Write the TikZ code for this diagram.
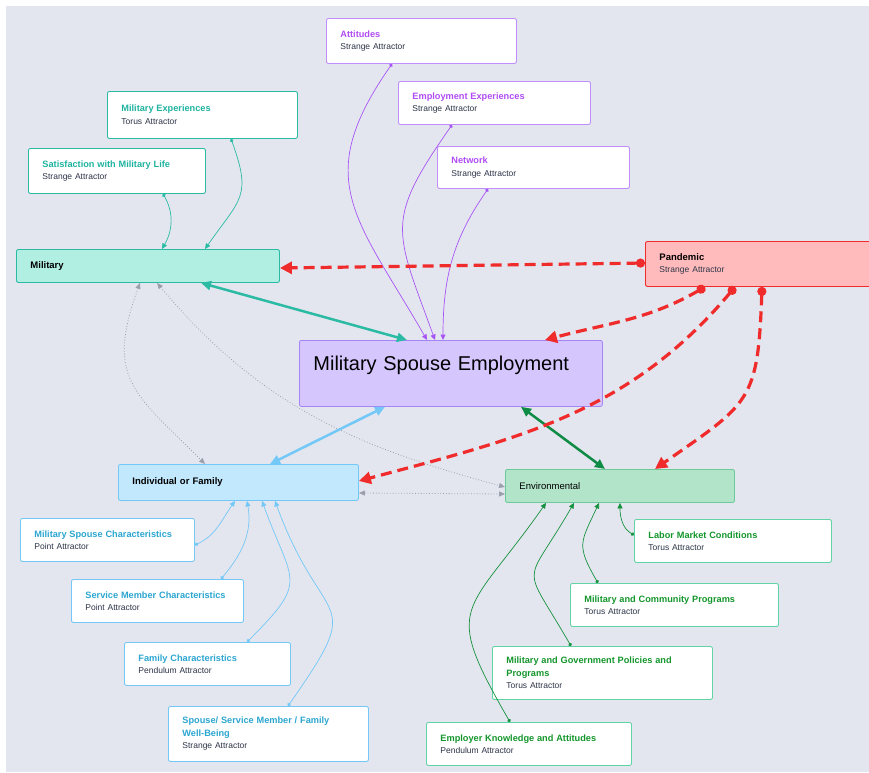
\documentclass[tikz,border=0pt]{standalone}
\usepackage{fontspec}
\setmainfont{Liberation Sans}
\usetikzlibrary{arrows.meta}

\definecolor{canvas}{HTML}{E3E6EE}
\definecolor{subtxt}{HTML}{2D3448}
\definecolor{tealtxt}{HTML}{1FB3A0}
\definecolor{tealln}{HTML}{2BBBA5}
\definecolor{tealfill}{HTML}{B2EFE3}
\definecolor{purptxt}{HTML}{B14CF5}
\definecolor{purpln}{HTML}{C08EFA}
\definecolor{purparr}{HTML}{A855F7}
\definecolor{msefill}{HTML}{D5C6FE}
\definecolor{msedraw}{HTML}{A585F3}
\definecolor{bluetxt}{HTML}{2BA6D0}
\definecolor{blueln}{HTML}{74C8F7}
\definecolor{bluefill}{HTML}{C2E8FD}
\definecolor{greentxt}{HTML}{14962C}
\definecolor{greenln}{HTML}{62D3A4}
\definecolor{greenarr}{HTML}{16913F}
\definecolor{greenfill}{HTML}{B2E4C9}
\definecolor{greendraw}{HTML}{6CC998}
\definecolor{darkgreen}{HTML}{0E8B45}
\definecolor{redln}{HTML}{F02B2B}
\definecolor{panfill}{HTML}{FFBBBB}
\definecolor{greyln}{HTML}{9AA0AB}

\newcommand{\factorname}[2]{{\fontsize{9.2}{12.5}\selectfont\bfseries\color{#1}#2}}

\tikzset{
  factor/.style={draw, fill=white, rounded corners=2pt, line width=0.9pt, anchor=north west,
    align=left, inner xsep=14pt, inner ysep=0pt, text=subtxt, font=\fontsize{8.5}{12.5}\selectfont},
  area/.style={factor, text=black, font=\fontsize{9.5}{12.5}\selectfont\bfseries},
  link/.style={line width=0.7pt, {Circle[length=3.5pt]}-{Triangle[length=5.5pt,width=5pt]}},
  pull/.style={line width=3.2pt, dash pattern=on 11pt off 6pt, redln,
    {Circle[length=9pt]}-{Triangle[length=12pt,width=12pt]}},
  twoway/.style={line width=2.5pt, {Triangle[length=10pt,width=9pt]}-{Triangle[length=10pt,width=9pt]}},
  loose/.style={greyln, line width=0.8pt, dotted, {Triangle[length=6pt,width=5pt]}-{Triangle[length=6pt,width=5pt]}}
}

\begin{document}
\begin{tikzpicture}[x=1pt, y=-1pt]
        \useasboundingbox (0,0) rectangle (869,772);
        \clip (0,0) rectangle (869,772);
        \fill[white] (0,0) rectangle (869,772);
        \fill[canvas] (6,6) rectangle (869,772);

        \node[factor, draw=purpln, text width=162pt, minimum height=45pt] at (326, 18)(att){\factorname{purptxt}{Attitudes}\\Strange Attractor};
        \node[factor, draw=purpln, text width=164pt, minimum height=43pt] at (398, 81)(empexp){\factorname{purptxt}{Employment Experiences}\\Strange Attractor};
        \node[factor, draw=purpln, text width=164pt, minimum height=42pt] at (437, 146)(net){\factorname{purptxt}{Network}\\Strange Attractor};
        \node[factor, draw=tealln, text width=162pt, minimum height=47pt] at (107, 91)(milexp){\factorname{tealtxt}{Military Experiences}\\Torus Attractor};
        \node[factor, draw=tealln, text width=149pt, minimum height=45pt] at (28, 148)(sat){\factorname{tealtxt}{Satisfaction with Military Life}\\Strange Attractor};

        \node[area, draw=tealln, fill=tealfill, text width=235pt, minimum height=33pt] at (16, 249)(mil){Military};
        \node[area, draw=redln, fill=panfill, text width=212pt, minimum height=45pt] at (645, 241)(pan){Pandemic\\{\normalfont\fontsize{8.5}{12.5}\selectfont\color{subtxt}Strange Attractor}};
        \node[draw=msedraw, fill=msefill, rounded corners=2pt, line width=0.8pt, anchor=north west, text width=275pt, align=left,
              inner xsep=14pt, inner ysep=8pt, text height=22pt, text depth=28pt, font=\fontsize{20}{24}\selectfont] at (299, 340)(mse){Military Spouse Employment};
        \node[area, draw=blueln, fill=bluefill, text width=212pt, minimum height=36pt] at (118, 464)(ind){Individual or Family};
        \node[area, draw=greendraw, fill=greenfill, text width=201pt, minimum height=33pt] at (505, 469)(env){\mdseries Environmental};

        \node[factor, draw=blueln, text width=146pt, minimum height=43pt] at (20, 518)(msc){\factorname{bluetxt}{Military Spouse Characteristics}\\Point Attractor};
        \node[factor, draw=blueln, text width=144pt, minimum height=43pt] at (71, 579)(smc){\factorname{bluetxt}{Service Member Characteristics}\\Point Attractor};
        \node[factor, draw=blueln, text width=138pt, minimum height=43pt] at (124, 642)(fc){\factorname{bluetxt}{Family Characteristics}\\Pendulum Attractor};
        \node[factor, draw=blueln, text width=172pt, minimum height=55pt] at (168, 706)(wb){\factorname{bluetxt}{Spouse/ Service Member / Family\\Well-Being}\\Strange Attractor};

        \node[factor, draw=greenln, text width=169pt, minimum height=43pt] at (634, 519)(lmc){\factorname{greentxt}{Labor Market Conditions}\\Torus Attractor};
        \node[factor, draw=greenln, text width=180pt, minimum height=43pt] at (570, 583)(mcp){\factorname{greentxt}{Military and Community Programs}\\Torus Attractor};
        \node[factor, draw=greenln, text width=192pt, minimum height=53pt] at (492, 646)(mgp){\factorname{greentxt}{Military and Government Policies and\\Programs}\\Torus Attractor};
        \node[factor, draw=greenln, text width=177pt, minimum height=43pt] at (426, 722)(ekn){\factorname{greentxt}{Employer Knowledge and Attitudes}\\Pendulum Attractor};

        \path[loose]
        ([xshift=124pt]mil.south west)edge[out=-110, in=135, looseness=1.35]([xshift=87pt]ind.north west)
        ([xshift=141pt]mil.south west)edge[out=-50, in=165]([yshift=-18pt]env.north west)
        ([yshift=-29pt]ind.north east)edge([yshift=-25pt]env.north west)
        ;

        \path[link, purparr]
        ([xshift=66pt]att.south west)edge[out=-125, in=120, looseness=1.3]([xshift=128pt]mse.north west)
        ([xshift=54pt]empexp.south west)edge[out=-125, in=110, looseness=1.4]([xshift=136pt]mse.north west)
        ([xshift=51pt]net.south west)edge[out=-125, in=90]([xshift=144pt]mse.north west)
        ;
        \path[link, tealln]
        ([xshift=135pt]sat.south west)edge[out=-60, in=60]([xshift=146pt]mil.north west)
        ([xshift=124pt]milexp.south west)edge[out=-70, in=55, looseness=1.4]([xshift=189pt]mil.north west)
        ;
        \path[link, blueln]
        ([yshift=-27pt]msc.north east)edge[out=25, in=-125]([xshift=117pt]ind.south west)
        ([xshift=150pt]smc.north west)edge[out=50, in=-80]([xshift=129pt]ind.south west)
        ([xshift=123pt]fc.north west)edge[out=45, in=-70, looseness=1.6]([xshift=144pt]ind.south west)
        ([xshift=120pt]wb.north west)edge[out=55, in=-70, looseness=1.75]([xshift=157pt]ind.south west)
        ;
        \path[link, greenarr]
        ([yshift=-16pt]lmc.north west)edge[out=150, in=-90]([xshift=115pt]env.south west)
        ([xshift=28pt]mcp.north west)edge[out=120, in=-115, looseness=1.4]([xshift=94pt]env.south west)
        ([xshift=79pt]mgp.north west)edge[out=120, in=-120, looseness=1.8]([xshift=69pt]env.south west)
        ([xshift=84pt]ekn.north west)edge[out=120, in=-125, looseness=1.6]([xshift=41pt]env.south west)
        ;

        \path[twoway]
        ([xshift=185pt]mil.south west)edge[tealln]([xshift=108pt]mse.north west)
        ([xshift=152pt]ind.north west)edge[blueln]([xshift=86pt]mse.south west)
        ([xshift=100pt]env.north west)edge[darkgreen]([xshift=222pt]mse.south west)
        ;

        \path[pull]
        ([yshift=-22pt]pan.north west)edge([yshift=-19pt]mil.north east)
        ([xshift=60pt]pan.south west)edge[out=-150, in=15]([xshift=246pt]mse.north west)
        ([xshift=90pt]pan.south west)edge[out=-130, in=15]([yshift=-17pt]ind.north east)
        ([xshift=117pt]pan.south west)edge[out=-92, in=35, looseness=1.4]([xshift=150pt]env.north west)
        ;
    \end{tikzpicture}
\end{document}
